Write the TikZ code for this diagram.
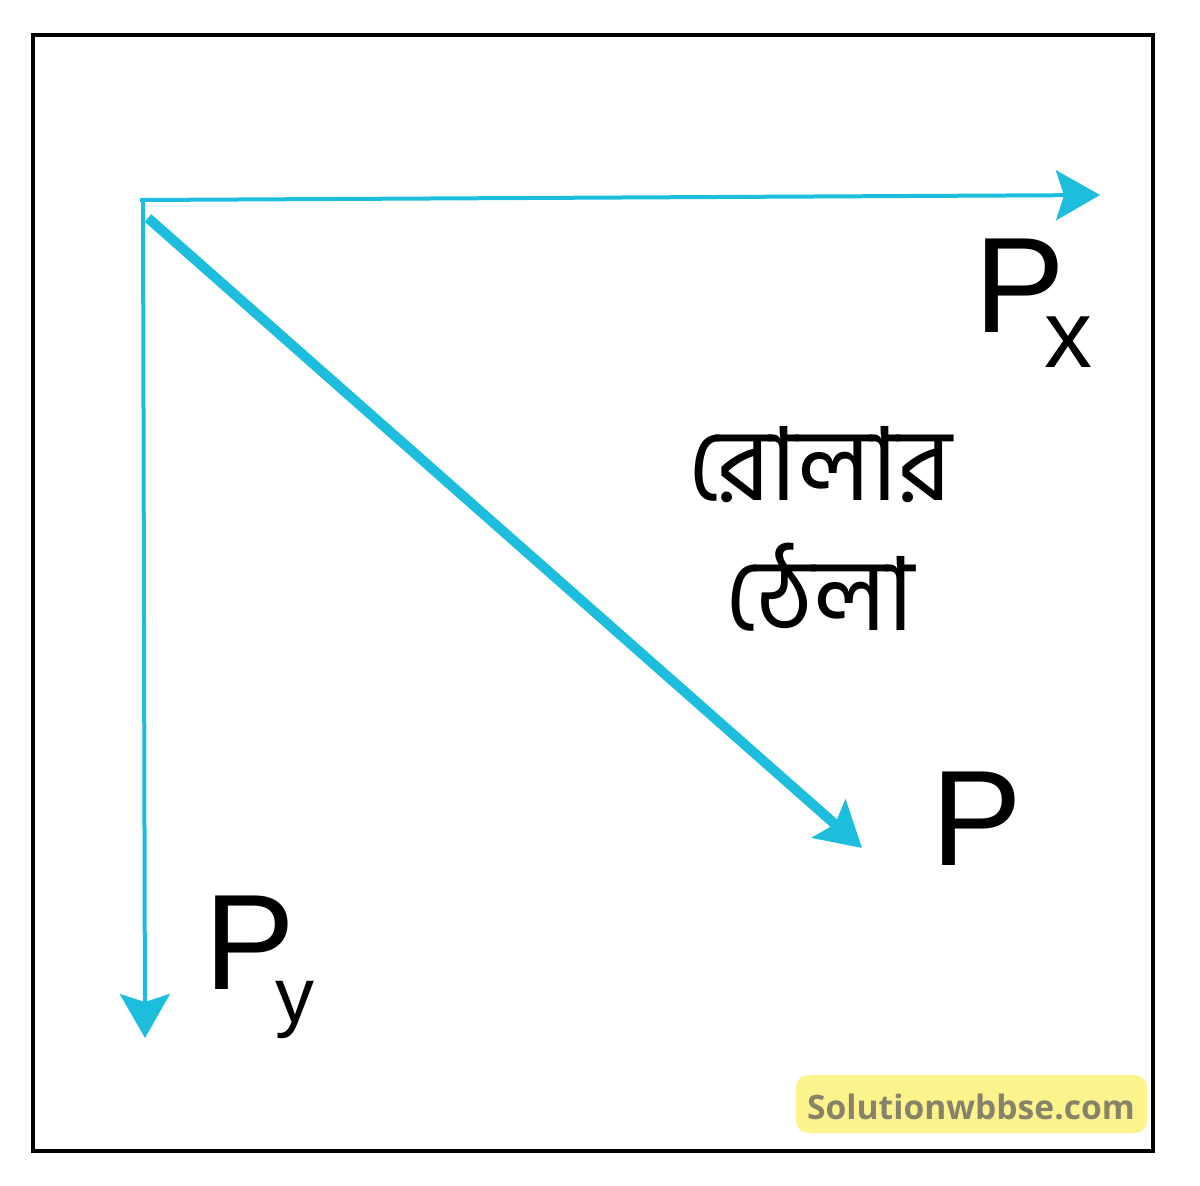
\documentclass[tikz,border=0pt]{standalone}
\usepackage{fontspec}
\usepackage{tikz}
\usetikzlibrary{arrows.meta}
\setmainfont{Liberation Sans}
\newfontfamily\bengalifont[Script=Bengali]{Hind Siliguri}
\newfontfamily\markfont{Open Sans}
\definecolor{vectorblue}{RGB}{28,189,221}
\definecolor{markyellow}{RGB}{252,243,140}
\definecolor{markgrey}{RGB}{134,131,106}

\begin{document}
\begin{tikzpicture}[x=0.5pt, y=-0.5pt]
      \tikzstyle{component} = [
        draw=vectorblue,
        line width = 2pt,
        -{Stealth[length=22pt, width=25pt, inset=4pt]}
      ]

      \tikzstyle{resultant} = [
        draw=vectorblue,
        line width = 5pt,
        -{Stealth[length=22pt, width=25pt, inset=4pt]}
      ]

      \tikzstyle{force} = [
        anchor = base west,
        inner sep = 0pt,
        font = \fontsize{68}{80}\selectfont
      ]

      \tikzstyle{caption} = [
        anchor = base,
        inner sep = 0pt,
        font = \bengalifont\fontsize{51}{61}\selectfont
      ]

      \useasboundingbox (0,0) rectangle (1200,1185);
      \draw[line width = 2.2pt] (33,35) rectangle (1153,1151);

      \coordinate (hstart) at (140,200);
      \coordinate (htip) at (1100,195);
      \coordinate (vstart) at (143,199);
      \coordinate (vtip) at (145,1038);
      \coordinate (dstart) at (148,218);
      \coordinate (dtip) at (862,848);

      \node[force] (px) at (974,332) {P\kern-10.5pt\lower17.5pt\hbox{\fontsize{48}{56}\selectfont x}};
      \node[force] (py) at (204,989) {P\kern-10pt\lower16.5pt\hbox{\fontsize{39}{45}\selectfont y}};
      \node[force] (p) at (931,865) {P};

      \node[caption] (roller) at (820,500) {রোলার};
      \node[caption] (push) at (820,630) {ঠেলা};

      \node[fill=markyellow, rounded corners=6pt, minimum width=175.5pt,
        minimum height=29pt, inner sep=0pt] (mark) at (971.5,1104) {};
      \node[anchor=base, inner sep=0pt, text=markgrey,
        font=\markfont\bfseries\fontsize{16.8}{20}\selectfont] (site) at (971,1119)
        {Solutionwbbse.com};

      \draw[component] (hstart) -- (htip);
      \draw[component] (vstart) -- (vtip);
      \draw[resultant] (dstart) -- (dtip);
    \end{tikzpicture}
\end{document}
